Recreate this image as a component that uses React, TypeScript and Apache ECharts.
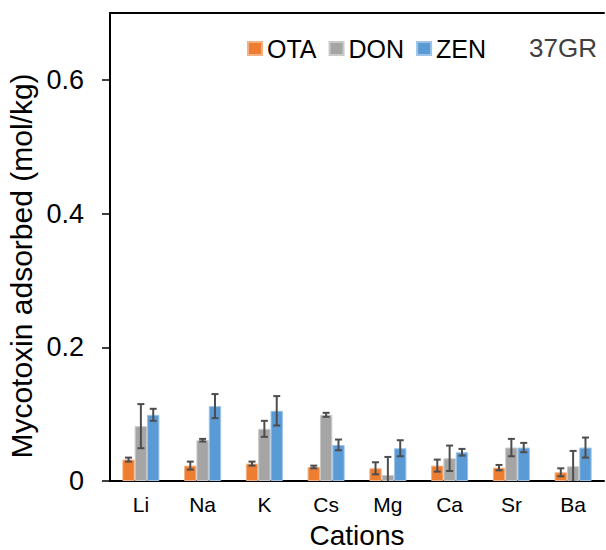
import React, { useEffect, useRef } from "react";
import * as echarts from "echarts";

const categories = ["Li", "Na", "K", "Cs", "Mg", "Ca", "Sr", "Ba"];
const seriesNames = ["OTA", "DON", "ZEN"];
const ota = [0.032, 0.023, 0.026, 0.021, 0.019, 0.023, 0.020, 0.013];
const otaErr = [0.003, 0.006, 0.003, 0.002, 0.009, 0.009, 0.004, 0.006];
const don = [0.082, 0.061, 0.078, 0.099, 0.009, 0.034, 0.050, 0.022];
const donErr = [0.033, 0.002, 0.012, 0.003, 0.027, 0.019, 0.013, 0.023];
const zen = [0.099, 0.112, 0.105, 0.054, 0.049, 0.043, 0.050, 0.050];
const zenErr = [0.009, 0.018, 0.022, 0.008, 0.012, 0.005, 0.007, 0.015];
const yTicks = [0, 0.2, 0.4, 0.6];

const colors = ["#ED7D31", "#A5A5A5", "#5B9BD5"];
const borderColors = ["#F4B183", "#C9C9C9", "#9DC3E6"];
const FONT = "'Liberation Sans', Arial, sans-serif";

export default function App() {
  const ref = useRef<HTMLDivElement>(null);

  useEffect(() => {
    if (!ref.current) return;
    const chart = echarts.init(ref.current, undefined, { renderer: "svg" });
    const values = [ota, don, zen];
    const errs = [otaErr, donErr, zenErr];

    const barSeries = values.map((vals, k) => ({
      name: seriesNames[k],
      type: "bar",
      data: vals,
      barGap: "0%",
      barCategoryGap: "40%",
      itemStyle: { color: colors[k], borderColor: borderColors[k], borderWidth: 1 },
      z: 2,
    }));

    const errSeries = values.map((vals, k) => ({
      name: seriesNames[k] + " error",
      type: "custom",
      xAxisIndex: 0,
      yAxisIndex: 0,
      clip: true,
      z: 5,
      encode: { x: 0, y: 1 },
      data: vals.map((v, i) => [i, v, errs[k][i]]),
      renderItem: (params: any, api: any) => {
        const idx = api.value(0);
        const val = api.value(1);
        const e = api.value(2);
        const band = api.size([1, 0])[0];
        const barW = band * 0.2;
        const c = api.coord([idx, val]);
        const x = c[0] + (k - 1) * barW;
        const yTop = api.coord([idx, val + e])[1];
        const yBot = api.coord([idx, val - e])[1];
        const cap = 3.5;
        const style = { stroke: "#4D4D4D", lineWidth: 2 };
        return {
          type: "group",
          children: [
            { type: "line", shape: { x1: x, y1: yTop, x2: x, y2: yBot }, style },
            { type: "line", shape: { x1: x - cap, y1: yTop, x2: x + cap, y2: yTop }, style },
            { type: "line", shape: { x1: x - cap, y1: yBot, x2: x + cap, y2: yBot }, style },
          ],
        };
      },
    }));

    chart.setOption({
      animation: false,
      backgroundColor: "#ffffff",
      textStyle: { fontFamily: FONT },
      grid: { left: 110, right: 2, top: 13, bottom: 69, containLabel: false, outerBoundsMode: "none" },
      legend: {
        data: seriesNames,
        left: 242,
        top: 31,
        itemWidth: 14,
        itemHeight: 13,
        itemGap: 12,
        icon: "rect",
        textStyle: { fontSize: 25, color: "#000000", fontFamily: FONT },
      },
      xAxis: [
        {
          type: "category",
          data: categories,
          position: "bottom",
          name: "Cations",
          nameLocation: "middle",
          nameGap: 40,
          nameTextStyle: { fontSize: 28, lineHeight: 28, color: "#000000", fontFamily: FONT },
          axisLine: { show: true, lineStyle: { color: "#000000", width: 2 } },
          axisTick: { show: false },
          axisLabel: { fontSize: 21, color: "#000000", margin: 13, fontFamily: FONT },
        },
        {
          type: "category",
          data: categories,
          position: "top",
          axisLine: { show: true, onZero: false, lineStyle: { color: "#000000", width: 2 } },
          axisTick: { show: false },
          axisLabel: { show: false },
        },
      ],
      yAxis: {
        type: "value",
        min: 0,
        max: 0.7,
        interval: 0.1,
        splitLine: { show: false },
        axisLine: { show: true, lineStyle: { color: "#000000", width: 2 } },
        axisTick: {
          show: true,
          length: 8,
          customValues: yTicks,
          lineStyle: { color: "#000000", width: 1.5 },
        },
        axisLabel: {
          fontSize: 27,
          color: "#000000",
          margin: 26,
          customValues: yTicks,
          fontFamily: FONT,
          formatter: (v: number) => String(Math.round(v * 10) / 10),
        },
      },
      graphic: [
        {
          type: "text",
          x: 21,
          y: 266,
          rotation: Math.PI / 2,
          style: {
            text: "Mycotoxin adsorbed (mol/kg)",
            fontSize: 30,
            fontFamily: FONT,
            fill: "#000000",
            textAlign: "center",
            textVerticalAlign: "middle",
          },
        },
        {
          type: "text",
          x: 529,
          y: 48,
          style: {
            text: "37GR",
            fontSize: 26,
            fontFamily: FONT,
            fill: "#404040",
            textAlign: "left",
            textVerticalAlign: "middle",
          },
        },
      ],
      series: [...barSeries, ...errSeries],
    });

    return () => chart.dispose();
  }, []);

  return (
    <div
      ref={ref}
      style={{ position: "fixed", left: 0, top: 0, width: 606, height: 550, background: "#fff" }}
    />
  );
}
